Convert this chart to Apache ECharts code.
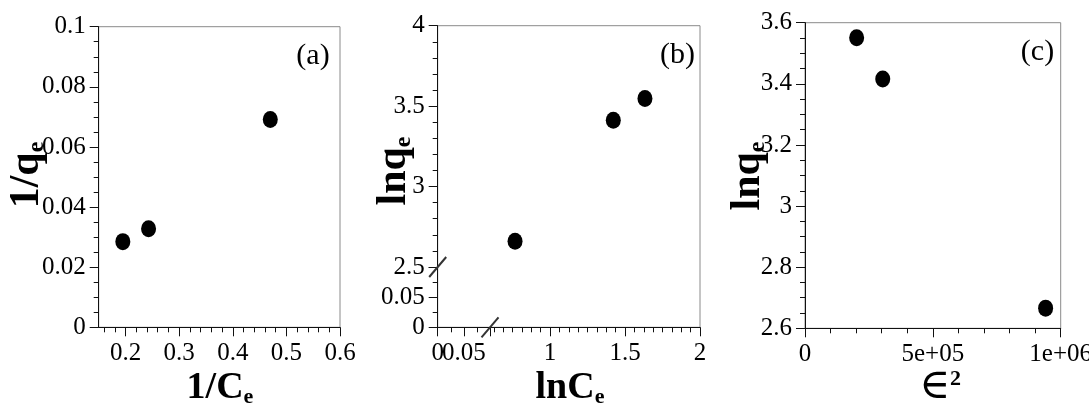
<!DOCTYPE html>
<html><head><meta charset="utf-8">
<script src="https://cdn.jsdelivr.net/npm/echarts@6/dist/echarts.min.js"></script>
<style>html,body{margin:0;padding:0;background:#fff}#c{width:1089px;height:407px}</style>
</head><body><div id="c"></div>
<script>
// ---- data ----
const aX = [0.195, 0.243, 0.470];      // 1/Ce
const aY = [0.0285, 0.0328, 0.0691];   // 1/qe
const bX = [0.767, 1.422, 1.633];      // lnCe
const bY = [2.660, 3.412, 3.548];      // lnqe
const cX = [202000, 304000, 941000];   // eps^2
const cY = [3.551, 3.416, 2.666];      // lnqe

// ---- tick values / labels ----
const aXMajor = [0.2, 0.3, 0.4, 0.5, 0.6];
const aXMinor = [0.16, 0.18, 0.22, 0.24, 0.26, 0.28, 0.32, 0.34, 0.36, 0.38,
                 0.42, 0.44, 0.46, 0.48, 0.52, 0.54, 0.56, 0.58];
const bXMajor = [1, 1.5, 2];
const bXMinor = [0.625, 0.6875, 0.75, 0.8125, 0.875, 0.9375,
                 1.0625, 1.125, 1.1875, 1.25, 1.3125, 1.375, 1.4375,
                 1.5625, 1.625, 1.6875, 1.75, 1.8125, 1.875, 1.9375];
const bXLowLabelsA = [0];
const bXLowLabelsB = [0.05];
const cXTicks = [0, 500000, 1000000];
const cXTickLabels = ['0', '5e+05', '1e+06'];

const SERIF = '"Liberation Serif","Times New Roman",serif';
const INK = '#111';
const BOX = '#8a8a8a';
const FS = 25;

function lab(extra) {
  return Object.assign({fontFamily: SERIF, fontSize: FS, color: '#000', margin: 13}, extra);
}
function axisBase(extra) {
  return Object.assign({
    type: 'value',
    splitLine: {show: false},
    axisLine: {show: true, onZero: false, lineStyle: {color: INK, width: 1}},
    axisTick: {show: true, length: 9, lineStyle: {color: INK}},
    axisLabel: lab({}),
  }, extra);
}
function minor(n) { return {show: true, splitNumber: n, length: 5, lineStyle: {color: INK}}; }
const hiddenAxis = (g) => ({type: 'value', gridIndex: g, show: false, min: 0, max: 1});

const option = {
  animation: false,
  backgroundColor: '#fff',
  grid: [
    {left: 98.7, top: 26.7, width: 241.3, height: 300.6, show: true, borderColor: BOX, borderWidth: 1, outerBoundsMode: 'none'},
    {left: 437.7, top: 25.7, width: 262.3, height: 301.6, show: true, borderColor: BOX, borderWidth: 1, outerBoundsMode: 'none'},
    {left: 490, top: 25.7, width: 210, height: 241.3, outerBoundsMode: 'none'},
    {left: 437.7, top: 267, width: 52.3, height: 60.3, outerBoundsMode: 'none'},
    {left: 805, top: 22.7, width: 255.7, height: 305.6, show: true, borderColor: BOX, borderWidth: 1, outerBoundsMode: 'none'}
  ],
  xAxis: [
    axisBase({gridIndex: 0, position: 'bottom', min: 0.15, max: 0.6,
      axisTick: {show: true, length: 9, lineStyle: {color: INK}, customValues: aXMajor},
      axisLabel: lab({margin: 14, customValues: aXMajor})}),
    {type: 'value', gridIndex: 0, position: 'bottom', min: 0.15, max: 0.6,
      axisLine: {show: false}, axisLabel: {show: false}, splitLine: {show: false},
      axisTick: {show: true, length: 5, lineStyle: {color: INK}, customValues: aXMinor}},
    hiddenAxis(1),
    axisBase({gridIndex: 2, position: 'bottom', min: 0.6, max: 2, offset: 60.3,
      axisTick: {show: true, length: 9, lineStyle: {color: INK}, customValues: bXMajor},
      axisLabel: lab({margin: 14, customValues: bXMajor})}),
    {type: 'value', gridIndex: 2, position: 'bottom', min: 0.6, max: 2, offset: 60.3,
      axisLine: {show: false}, axisLabel: {show: false}, splitLine: {show: false},
      axisTick: {show: true, length: 5, lineStyle: {color: INK}, customValues: bXMinor}},
    axisBase({gridIndex: 3, position: 'bottom', min: 0, max: 0.1, interval: 0.05, minorTick: minor(2),
      axisLabel: lab({margin: 14, customValues: bXLowLabelsA})}),
    axisBase({gridIndex: 4, position: 'bottom', min: 0, max: 1000000, interval: 500000, minorTick: minor(5),
      axisLabel: lab({margin: 14, showMinLabel: true,
        formatter: v => cXTickLabels[cXTicks.indexOf(v)] ?? String(v)})}),
    {type: 'value', gridIndex: 3, position: 'bottom', min: 0, max: 0.1,
      axisLine: {show: false}, axisTick: {show: false}, splitLine: {show: false},
      axisLabel: lab({margin: 14, customValues: bXLowLabelsB})}
  ],
  yAxis: [
    axisBase({gridIndex: 0, position: 'left', min: 0, max: 0.1, interval: 0.02, minorTick: minor(4),
      axisLabel: lab({showMinLabel: true, showMaxLabel: true})}),
    hiddenAxis(1),
    axisBase({gridIndex: 2, position: 'left', min: 2.5, max: 4, interval: 0.5, offset: 52.3, minorTick: minor(5),
      axisLabel: lab({showMinLabel: true, showMaxLabel: true})}),
    axisBase({gridIndex: 3, position: 'left', min: 0, max: 0.1, interval: 0.05, minorTick: minor(2),
      axisLabel: lab({showMinLabel: true, showMaxLabel: false})}),
    axisBase({gridIndex: 4, position: 'left', min: 2.6, max: 3.6, interval: 0.2, minorTick: minor(4),
      axisLabel: lab({showMinLabel: true, showMaxLabel: true})})
  ],
  series: [
    {type: 'scatter', xAxisIndex: 0, yAxisIndex: 0, symbol: 'circle', symbolSize: [15, 17],
      itemStyle: {color: '#000', opacity: 1}, data: aX.map((x, i) => [x, aY[i]])},
    {type: 'scatter', xAxisIndex: 3, yAxisIndex: 2, symbol: 'circle', symbolSize: [15, 17],
      itemStyle: {color: '#000', opacity: 1}, data: bX.map((x, i) => [x, bY[i]])},
    {type: 'scatter', xAxisIndex: 6, yAxisIndex: 4, symbol: 'circle', symbolSize: [15, 17],
      itemStyle: {color: '#000', opacity: 1}, data: cX.map((x, i) => [x, cY[i]])}
  ],
  graphic: {elements: [
    {id: 'la', type: 'text', x: 313, y: 56, style: {text: '(a)', font: '30px ' + SERIF, fill: '#000', align: 'center', verticalAlign: 'middle'}},
    {id: 'lb', type: 'text', x: 677.5, y: 55, style: {text: '(b)', font: '30px ' + SERIF, fill: '#000', align: 'center', verticalAlign: 'middle'}},
    {id: 'lc', type: 'text', x: 1037.5, y: 52.5, style: {text: '(c)', font: '30px ' + SERIF, fill: '#000', align: 'center', verticalAlign: 'middle'}},
    // y titles
    {id: 'ya', type: 'text', x: 27, y: 175, rotation: Math.PI / 2,
      style: {text: '{m|1/q}{s|e}', align: 'center', verticalAlign: 'middle', rich: richSub()}},
    {id: 'yb', type: 'text', x: 394, y: 171, rotation: Math.PI / 2,
      style: {text: '{m|lnq}{s|e}', align: 'center', verticalAlign: 'middle', rich: richSub()}},
    {id: 'yc', type: 'text', x: 748, y: 176, rotation: Math.PI / 2,
      style: {text: '{m|lnq}{s|e}', align: 'center', verticalAlign: 'middle', rich: richSub()}},
    // x titles
    {id: 'xa', type: 'text', x: 220, y: 388,
      style: {text: '{m|1/C}{s|e}', align: 'center', verticalAlign: 'middle', rich: richSubX()}},
    {id: 'xb', type: 'text', x: 570, y: 388,
      style: {text: '{m|lnC}{s|e}', align: 'center', verticalAlign: 'middle', rich: richSubX()}},
    {id: 'xc', type: 'text', x: 940, y: 388,
      style: {text: '{m|∈}{p|2}', align: 'center', verticalAlign: 'middle', rich: {
        m: {fontFamily: '"DejaVu Serif",' + SERIF, fontSize: 42, lineHeight: 40, fill: '#000', verticalAlign: 'bottom'},
        p: {fontFamily: SERIF, fontWeight: 'bold', fontSize: 22, lineHeight: 22, fill: '#000', verticalAlign: 'top'}
      }}}
  ]}
};

function richSub() {
  return {
    m: {fontFamily: SERIF, fontWeight: 'bold', fontSize: 42, lineHeight: 44, fill: '#000'},
    s: {fontFamily: SERIF, fontWeight: 'bold', fontSize: 24, lineHeight: 24, fill: '#000', verticalAlign: 'bottom'}
  };
}
function richSubX() {
  return {
    m: {fontFamily: SERIF, fontWeight: 'bold', fontSize: 38, lineHeight: 40, fill: '#000'},
    s: {fontFamily: SERIF, fontWeight: 'bold', fontSize: 22, lineHeight: 22, fill: '#000', verticalAlign: 'bottom'}
  };
}

const chart = echarts.init(document.getElementById('c'), null, {renderer: 'canvas'});
chart.setOption(option);

// break marks on panel (b), placed through the axes of the lower segment
const pY = chart.convertToPixel({xAxisIndex: 5, yAxisIndex: 3}, [0, 0.1]);
const pX = chart.convertToPixel({xAxisIndex: 5, yAxisIndex: 3}, [0.1, 0]);
function slash(id, p) {
  return {id: id, type: 'line', z: 100,
    shape: {x1: p[0] - 8.5, y1: p[1] + 10, x2: p[0] + 8.5, y2: p[1] - 10},
    style: {stroke: '#333', lineWidth: 2}};
}
chart.setOption({graphic: {elements: [slash('s1', pY), slash('s2', pX)]}});
</script></body></html>
